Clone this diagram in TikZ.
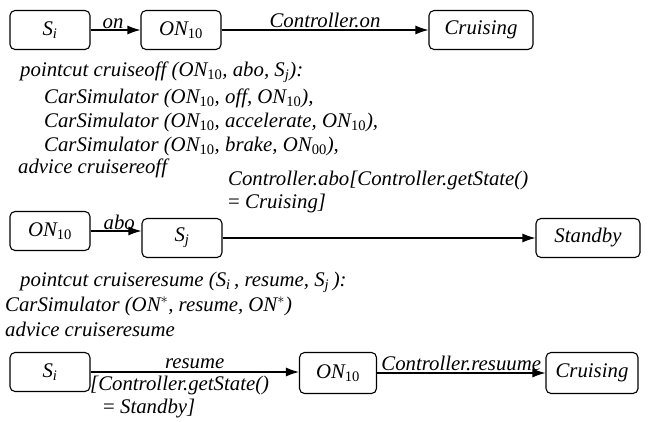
\documentclass[tikz,border=0pt]{standalone}
\usepackage{fontspec}
\setmainfont{Liberation Serif}[ItalicFont={Liberation Serif Italic}]
\usetikzlibrary{arrows.meta}
\newcommand\sbs[1]{\textsubscript{\upshape #1}}
\newcommand\sbi[1]{\textsubscript{#1}}
\begin{document}
\begin{tikzpicture}[x=1pt,y=-1pt,font=\rmfamily\itshape\fontsize{20.8}{24}\selectfont]

\tikzstyle{state} = [
	draw, rectangle, rounded corners=5pt, line width=1.1pt,
	minimum height=39pt, minimum width=80pt, inner sep=2pt ];
\tikzstyle{txt} = [anchor=west, inner sep=0pt];
\tikzstyle{trans} = [-{Latex[length=13pt,width=9pt]}, line width=1.1pt];
\useasboundingbox (0,0) rectangle (651,421);

% cruiseoff
\node[state] (s1) at (50,30) {S\sbi{i}};
\node[state] (on1) at (181,30) {ON\sbs{10}};
\node[state,minimum width=104pt] (cr1) at (481,30) {Cruising};
\draw[trans] (s1) -- node[above,inner sep=1pt,pos=.45] {on} (on1);
\draw[trans] (on1) -- node[above,inner sep=2pt,pos=.5] {Controller.on} (cr1);

\node[txt] (p1) at (20,72) {pointcut cruiseoff (ON\sbs{10}, abo, S\sbi{j}):};
\node[txt] (c1) at (44,98) {CarSimulator (ON\sbs{10}, off, ON\sbs{10}),};
\node[txt] (c2) at (44,122) {CarSimulator (ON\sbs{10}, accelerate, ON\sbs{10}),};
\node[txt] (c3) at (44,146) {CarSimulator (ON\sbs{10}, brake, ON\sbs{00}),};
\node[txt] (a1) at (18,168) {advice cruisereoff};

% abo
\node[state] (on2) at (50,231) {ON\sbs{10}};
\node[state] (sj) at (182,238) {S\sbi{j}};
\node[state,minimum width=104pt] (sb) at (588,238) {Standby};
\draw[trans] (on2.east) -- node[above left,inner sep=1pt,pos=.9] {abo} (on2.east -| sj.west);
\draw[trans] (sj) -- (sb);
\node[txt] (g1) at (228,180) {Controller.abo[Controller.getState()};
\node[txt] (g2) at (228,203) {\upshape= \itshape Cruising]};

% cruiseresume
\node[txt] (p2) at (20,282) {pointcut cruiseresume (S\sbi{i}\,, resume, S\sbi{j}\,):};
\node[txt] (c4) at (5,306) {CarSimulator (ON$^*$, resume, ON$^*$)};
\node[txt] (a2) at (5,329) {advice cruiseresume};

\node[state] (s3) at (50,372) {S\sbi{i}};
\node[state,minimum width=77pt,minimum height=41pt] (on3) at (338,373) {ON\sbs{10}};
\node[state,minimum width=92pt,minimum height=41pt] (cr3) at (592,373) {Cruising};
\draw[trans] (s3.east) -- node[above,inner sep=3pt] {resume} (s3.east -| on3.west);
\node[txt] (g3) at (90,385) {[Controller.getState()};
\node[txt] (g4) at (103,409) {\upshape= \itshape Standby]};
\draw[trans] (on3) -- node[above,inner sep=2pt,pos=.5] {Controller.resuume} (cr3);

\end{tikzpicture}
\end{document}
